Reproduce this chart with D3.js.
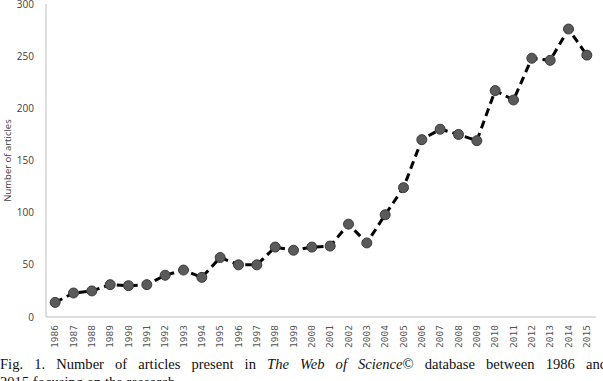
<!DOCTYPE html>
<html lang="en">
<head>
<meta charset="UTF-8">
<script src="https://d3js.org/d3.v7.min.js"></script>
<style>
  body { margin: 0; background: #fff; overflow: hidden; }
  #content { position: relative; width: 603px; height: 381px; overflow: hidden; }
  svg { position: absolute; left: 0; top: 0; }
  .caption { position: absolute; left: 0; font-family: "Liberation Serif", serif; font-size: 14.6px; color: #111; white-space: nowrap; }
  #cap1 { top: 356px; width: 607px; text-align: justify; text-align-last: justify; }
  #cap2 { top: 374px; }
</style>
</head>
<body>
<div id="content">
  <svg width="603" height="381"></svg>
  <div class="caption" id="cap1">Fig. 1. Number of articles present in <i>The Web of Science</i>© database between 1986 and</div>
  <div class="caption" id="cap2">2015 focusing on the research</div>
</div>
<script>
var years = ['1986','1987','1988','1989','1990','1991','1992','1993','1994','1995',
             '1996','1997','1998','1999','2000','2001','2002','2003','2004','2005',
             '2006','2007','2008','2009','2010','2011','2012','2013','2014','2015'];
var articles = [14, 23, 25, 31, 30, 31, 40, 45, 38, 57,
                50, 50, 67, 64, 67, 68, 89, 71, 98, 124,
                170, 180, 175, 169, 217, 208, 248, 246, 276, 251];
var yTicks = [0, 50, 100, 150, 200, 250, 300];

var svg = d3.select('svg');
var plotLeft = 46, plotRight = 596, plotTop = 4, plotBottom = 317;

var x = d3.scaleBand().domain(years).range([plotLeft, plotRight]);
var y = d3.scaleLinear().domain([0, 300]).range([plotBottom, plotTop]);

// axes lines
svg.append('line').attr('x1', plotLeft).attr('x2', plotLeft).attr('y1', plotTop).attr('y2', plotBottom)
    .attr('stroke', '#bdbdbd').attr('stroke-width', 1);
svg.append('line').attr('x1', plotLeft).attr('x2', plotRight).attr('y1', plotBottom).attr('y2', plotBottom)
    .attr('stroke', '#bdbdbd').attr('stroke-width', 1);

// y tick labels
svg.selectAll('.ylab').data(yTicks).join('text')
    .attr('class', 'ylab')
    .attr('x', 34)
    .attr('y', function(d){ return y(d); })
    .attr('dy', '0.35em')
    .attr('text-anchor', 'end')
    .style('font-family', '"Open Sans", sans-serif')
    .style('font-size', '10px')
    .style('fill', '#404040')
    .text(function(d){ return d; });

// x tick labels (rotated)
svg.selectAll('.xlab').data(years).join('text')
    .attr('class', 'xlab')
    .attr('transform', function(d){
        return 'translate(' + (x(d) + x.bandwidth() / 2) + ',325) rotate(-90)';
    })
    .attr('dy', '0.35em')
    .attr('text-anchor', 'end')
    .style('font-family', '"DejaVu Sans Mono", monospace')
    .style('font-size', '9.5px')
    .style('fill', '#555')
    .text(function(d){ return d; });

// y axis title
svg.append('text')
    .attr('transform', 'translate(11,' + ((plotTop + plotBottom) / 2) + ') rotate(-90)')
    .attr('text-anchor', 'middle')
    .style('font-family', '"Open Sans", sans-serif')
    .style('font-size', '9.5px')
    .style('fill', '#404040')
    .text('Number of articles');

var pts = years.map(function(d, i){ return { year: d, value: articles[i] }; });

var line = d3.line()
    .x(function(d){ return x(d.year) + x.bandwidth() / 2; })
    .y(function(d){ return y(d.value); });

svg.append('path').datum(pts)
    .attr('d', line)
    .attr('fill', 'none')
    .attr('stroke', '#000')
    .attr('stroke-width', 3)
    .attr('stroke-dasharray', '8,5');

svg.selectAll('circle').data(pts).join('circle')
    .attr('cx', function(d){ return x(d.year) + x.bandwidth() / 2; })
    .attr('cy', function(d){ return y(d.value); })
    .attr('r', 5)
    .style('fill', '#5a5a5a')
    .style('stroke', '#3a3a3a')
    .style('stroke-width', 1);
</script>
</body>
</html>
